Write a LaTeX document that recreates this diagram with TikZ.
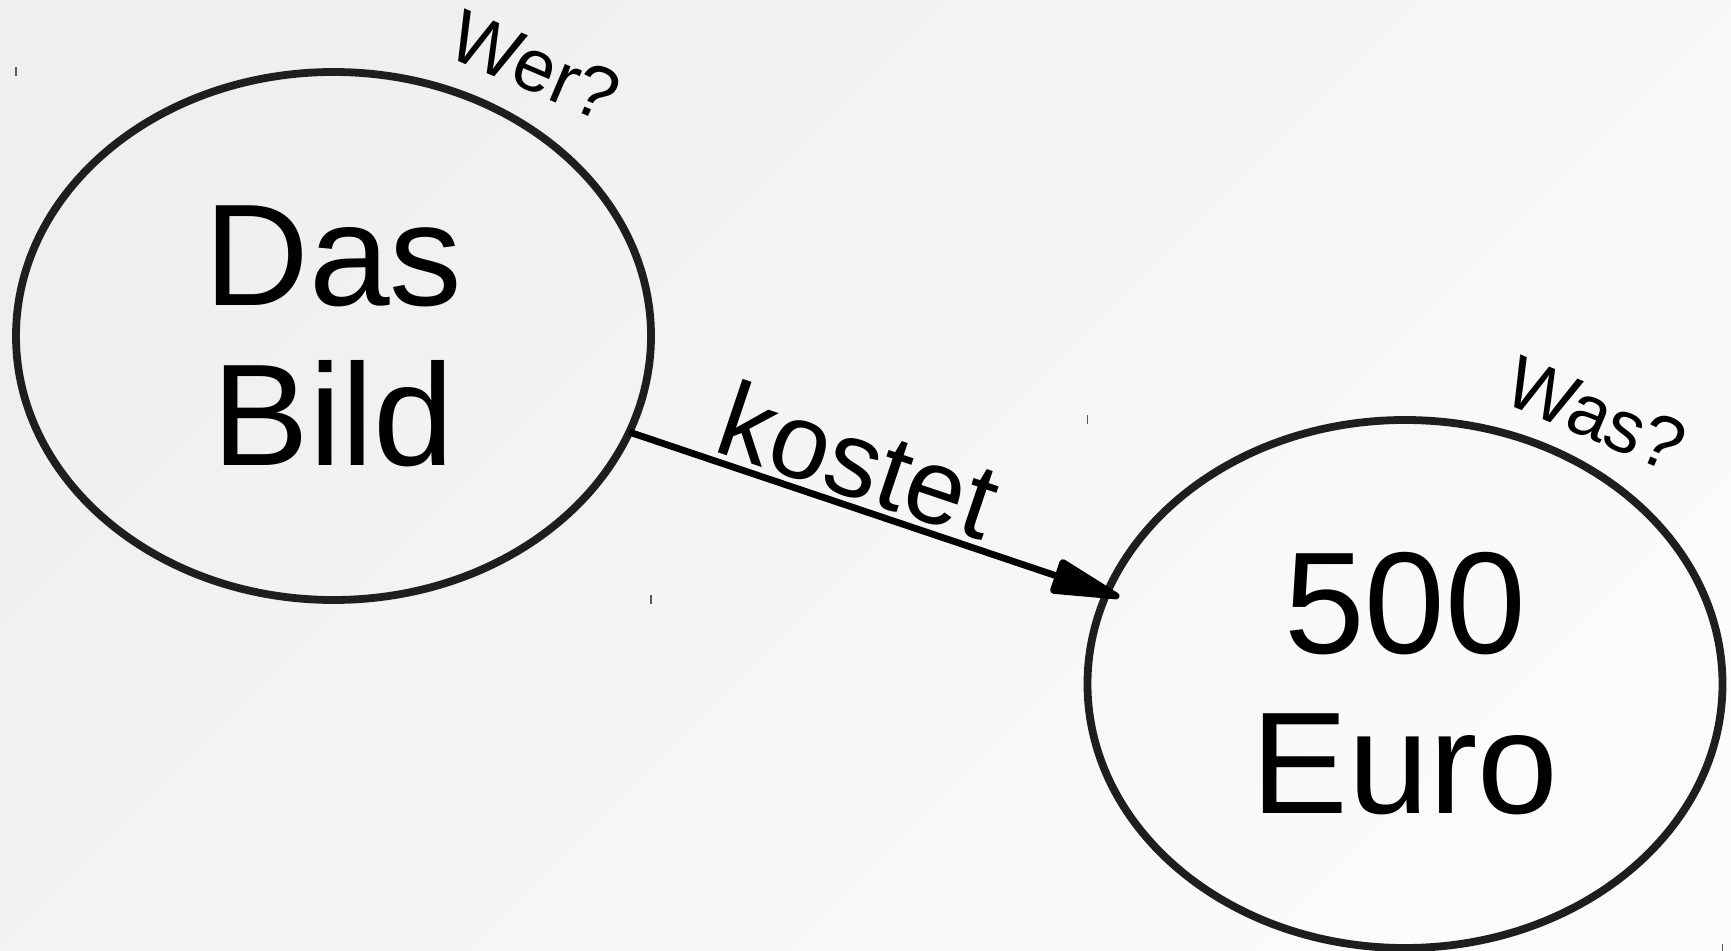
\documentclass[tikz,border=0pt]{standalone}
\usepackage{fontspec}
\setmainfont{Liberation Sans}
\usetikzlibrary{shapes.geometric,arrows.meta}
\definecolor{ink}{HTML}{1E1E1E}
\definecolor{bgA}{HTML}{EFEFEF}
\definecolor{bgB}{HTML}{FBFBFB}
\begin{document}
\begin{tikzpicture}[x=0.5pt,y=-0.5pt,
  bubble/.style={ellipse, draw=ink, line width=3.9pt, minimum width=317.5pt, minimum height=264pt,
    inner sep=0pt, outer sep=0pt, align=center, text=black,
    font=\fontsize{72.5pt}{80pt}\selectfont},
  conn/.style={draw=black, line width=3.4pt, -{Triangle[length=40pt,width=18pt,round]}, shorten >=-6.5pt},
  edgelab/.style={sloped, anchor=south, inner sep=4pt, outer sep=0pt,
    font=\fontsize{53.5pt}{60pt}\selectfont},
  qlab/.style={inner sep=0pt, outer sep=0pt, rotate=-23,
    font=\fontsize{37pt}{42pt}\selectfont},
  tickmark/.style={draw=black!65, line width=0.8pt}]
\shade[top color=bgA, bottom color=bgB, shading angle=45] (0,0) rectangle (1731,951);
\useasboundingbox (0,0) rectangle (1731,951);

\node[bubble] (e1) at (333.5,336) {Das\\Bild};
\node[bubble] (e2) at (1405,684) {500\\Euro};

\draw[conn] (e1.-18.1) -- node[edgelab, pos=0.45] (lk) {kostet} (e2.163.6);

\node[qlab] (wer) at (535,66) {Wer?};
\node[qlab] (was) at (1596,414) {Was?};

\coordinate (t1) at (e1.west |- e1.north);
\coordinate (t2) at (e1.east |- e1.south);
\coordinate (t3) at (e2.west |- e2.north);
\coordinate (t4) at (e2.east |- e2.south);
\foreach \t in {t1,t2,t3,t4}{
  \draw[tickmark] ([yshift=2.25pt]\t) -- ([yshift=-2.25pt]\t);
}
\end{tikzpicture}
\end{document}
